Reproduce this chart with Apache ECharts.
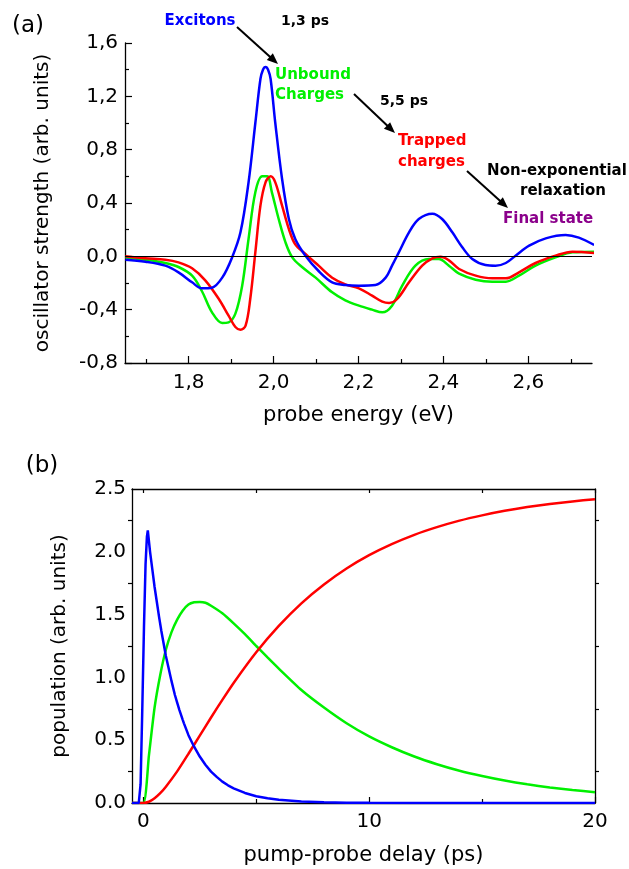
<!DOCTYPE html>
<html>
<head>
<meta charset="utf-8">
<script src="https://cdn.jsdelivr.net/npm/echarts@6/dist/echarts.min.js"></script>
<style>html,body{margin:0;padding:0;background:#fff;}#c{width:629px;height:869px;}</style>
</head>
<body>
<div id="c"></div>
<script>
// ---------- Panel (a): oscillator strength vs probe energy ----------
const excitonsA = [[1.651,-0.025],[1.698,-0.04],[1.745,-0.07],[1.776,-0.12],[1.808,-0.195],[1.831,-0.24],[1.855,-0.235],[1.879,-0.16],[1.902,-0.01],[1.922,0.18],[1.941,0.555],[1.957,1.0],[1.969,1.33],[1.975,1.40],[1.981,1.42],[1.987,1.40],[1.993,1.33],[2.004,1.0],[2.020,0.58],[2.036,0.28],[2.051,0.13],[2.075,0.005],[2.106,-0.11],[2.138,-0.195],[2.169,-0.215],[2.201,-0.22],[2.240,-0.215],[2.264,-0.16],[2.279,-0.07],[2.295,0.03],[2.319,0.18],[2.342,0.28],[2.374,0.32],[2.397,0.28],[2.421,0.18],[2.444,0.07],[2.468,-0.02],[2.499,-0.065],[2.523,-0.07],[2.547,-0.05],[2.570,0.005],[2.602,0.08],[2.641,0.135],[2.688,0.16],[2.719,0.14],[2.755,0.085]];
const unboundA = [[1.651,-0.008],[1.698,-0.025],[1.745,-0.05],[1.776,-0.08],[1.808,-0.145],[1.831,-0.26],[1.855,-0.42],[1.879,-0.50],[1.894,-0.495],[1.910,-0.43],[1.926,-0.22],[1.941,0.13],[1.957,0.48],[1.973,0.60],[1.985,0.60],[1.996,0.48],[2.012,0.28],[2.028,0.105],[2.044,-0.008],[2.067,-0.08],[2.099,-0.16],[2.138,-0.27],[2.169,-0.33],[2.201,-0.37],[2.232,-0.40],[2.256,-0.42],[2.279,-0.37],[2.303,-0.22],[2.334,-0.07],[2.366,-0.02],[2.389,-0.02],[2.413,-0.07],[2.437,-0.13],[2.476,-0.175],[2.515,-0.19],[2.547,-0.19],[2.578,-0.145],[2.617,-0.07],[2.664,-0.008],[2.704,0.03],[2.755,0.035]];
const trappedA = [[1.651,0.0],[1.698,-0.015],[1.745,-0.025],[1.776,-0.045],[1.808,-0.09],[1.839,-0.18],[1.871,-0.32],[1.894,-0.445],[1.910,-0.53],[1.922,-0.55],[1.934,-0.52],[1.945,-0.32],[1.957,0.03],[1.969,0.38],[1.981,0.555],[1.993,0.60],[2.004,0.555],[2.020,0.38],[2.036,0.205],[2.051,0.09],[2.075,0.018],[2.106,-0.07],[2.138,-0.16],[2.169,-0.21],[2.201,-0.24],[2.232,-0.295],[2.256,-0.34],[2.272,-0.35],[2.291,-0.32],[2.319,-0.195],[2.350,-0.07],[2.374,-0.015],[2.393,-0.003],[2.413,-0.03],[2.437,-0.095],[2.476,-0.145],[2.515,-0.165],[2.547,-0.165],[2.578,-0.12],[2.617,-0.05],[2.664,0.005],[2.704,0.035],[2.755,0.025]];
const energyMajorTicks = [1.8, 2.0, 2.2, 2.4, 2.6];
const energyMinorTicks = [1.7, 1.9, 2.1, 2.3, 2.5, 2.7];

// ---------- Panel (b): population vs pump-probe delay ----------
const excitonsB = [[-0.5,0],[-0.2,0],[-0.12,0.15],[-0.05,0.7],[0.03,1.4],[0.1,1.9],[0.16,2.12],[0.2,2.17],[0.3,2.0],[0.4,1.86],[0.5,1.72],[0.6,1.6],[0.7,1.48],[0.8,1.37],[0.9,1.27],[1.0,1.17],[1.1,1.09],[1.25,0.97],[1.4,0.86],[1.5,0.80],[1.6,0.74],[1.75,0.66],[1.8,0.634],[2.0,0.54],[2.25,0.448],[2.5,0.37],[2.75,0.305],[3.0,0.25],[3.25,0.208],[3.5,0.17],[3.75,0.141],[4.0,0.117],[4.5,0.08],[5,0.054],[5.5,0.037],[6,0.025],[7,0.012],[8,0.005],[9,0.002],[10,0.001],[12,0],[20,0]];
const unboundB = [[-0.5,0],[0,0],[0.25,0.38],[0.5,0.76],[0.75,1.02],[1.0,1.22],[1.25,1.36],[1.5,1.46],[1.75,1.533],[2.0,1.58],[2.25,1.598],[2.5,1.60],[2.75,1.594],[3.0,1.57],[3.5,1.51],[4,1.43],[4.5,1.344],[5,1.25],[5.5,1.159],[6,1.07],[7,0.90],[8,0.76],[9,0.635],[10,0.53],[11,0.444],[12,0.37],[13,0.309],[14,0.257],[15,0.215],[16,0.179],[17,0.149],[18,0.124],[19,0.104],[20,0.086]];
const trappedB = [[-0.5,0],[0,0],[0.25,0.01],[0.5,0.038],[0.75,0.078],[1.0,0.13],[1.5,0.252],[2.0,0.392],[2.5,0.536],[3,0.681],[3.5,0.821],[4,0.956],[5,1.20],[6,1.41],[7,1.59],[8,1.74],[9,1.867],[10,1.973],[11,2.061],[12,2.135],[13,2.196],[14,2.248],[15,2.29],[16,2.326],[17,2.356],[18,2.381],[19,2.401],[20,2.419]];
const delayMajorTicks = [0, 10, 20];
const delayMinorTicks = [5, 15];
const delayTopTicks = [0, 5, 10, 15, 20];

const FONT = 'DejaVu Sans';
const BLUE = '#0000ff', GREEN = '#00f000', RED = '#ff0000', PURPLE = '#8b008b';
const fmtComma = v => v.toFixed(1).replace('.', ',');
const axLine = {show: true, onZero: false, lineStyle: {color: '#000', width: 1.3}};
const tickStyle = {color: '#000', width: 1.2};
const labelStyle = {color: '#000', fontSize: 20, fontFamily: FONT};
const nameStyle = {color: '#000', fontSize: 21, fontFamily: FONT};

function lineSeries(data, color, xi, yi, extra) {
  return Object.assign({
    type: 'line', data: data, xAxisIndex: xi, yAxisIndex: yi,
    symbol: 'none', showSymbol: false, lineStyle: {color: color, width: 2.5},
    itemStyle: {color: color}, silent: true, animation: false
  }, extra || {});
}

function arrow(x1, y1, x2, y2) {
  const dx = x2 - x1, dy = y2 - y1, L = Math.hypot(dx, dy);
  const ux = dx / L, uy = dy / L, nx = -uy, ny = ux;
  const hl = 11, hw = 4.5;
  const bx = x2 - hl * ux, by = y2 - hl * uy;
  return [
    {type: 'line', shape: {x1: x1, y1: y1, x2: bx + ux * 2, y2: by + uy * 2}, style: {stroke: '#000', lineWidth: 2}},
    {type: 'polygon', shape: {points: [[x2, y2], [bx + hw * nx, by + hw * ny], [bx - hw * nx, by - hw * ny]]}, style: {fill: '#000'}}
  ];
}
function txt(t, x, y, color, size, bold, align) {
  return {type: 'text', x: x, y: y, style: {text: t, fill: color, font: (bold ? 'bold ' : '') + size + 'px "' + FONT + '"', textAlign: align || 'left', textVerticalAlign: 'middle'}};
}

const chart = echarts.init(document.getElementById('c'), null, {renderer: 'canvas'});
const option = {
  animation: false,
  backgroundColor: '#fff',
  grid: [
    {left: 125, top: 43, width: 467, height: 320},
    {left: 132, top: 489, width: 463, height: 314}
  ],
  xAxis: [
    {gridIndex: 0, type: 'value', position: 'bottom', min: 1.65, max: 2.75, axisLine: axLine,
     axisTick: {show: true, inside: true, length: 7, customValues: energyMajorTicks, lineStyle: tickStyle},
     axisLabel: Object.assign({customValues: energyMajorTicks, formatter: fmtComma, margin: 10}, labelStyle),
     splitLine: {show: false}, name: 'probe energy (eV)', nameLocation: 'middle', nameGap: 42, nameTextStyle: nameStyle},
    {gridIndex: 0, type: 'value', position: 'bottom', min: 1.65, max: 2.75, axisLine: {show: false, onZero: false},
     axisTick: {show: true, inside: true, length: 4, customValues: energyMinorTicks, lineStyle: tickStyle},
     axisLabel: {show: false}, splitLine: {show: false}},
    {gridIndex: 1, type: 'value', position: 'bottom', min: -0.5, max: 20, axisLine: axLine,
     axisTick: {show: true, inside: true, length: 6, customValues: delayMajorTicks, lineStyle: tickStyle},
     axisLabel: Object.assign({customValues: delayMajorTicks, margin: 9}, labelStyle),
     splitLine: {show: false}, name: 'pump-probe delay (ps)', nameLocation: 'middle', nameGap: 42, nameTextStyle: nameStyle},
    {gridIndex: 1, type: 'value', position: 'bottom', min: -0.5, max: 20, axisLine: {show: false, onZero: false},
     axisTick: {show: true, inside: true, length: 4, customValues: delayMinorTicks, lineStyle: tickStyle},
     axisLabel: {show: false}, splitLine: {show: false}},
    {gridIndex: 1, type: 'value', position: 'top', min: -0.5, max: 20, axisLine: axLine,
     axisTick: {show: true, inside: true, length: 4, customValues: delayTopTicks, lineStyle: tickStyle},
     axisLabel: {show: false}, splitLine: {show: false}}
  ],
  yAxis: [
    {gridIndex: 0, type: 'value', position: 'left', min: -0.8, max: 1.6, interval: 0.4, axisLine: axLine,
     axisTick: {show: true, inside: true, length: 7, lineStyle: tickStyle},
     minorTick: {show: true, splitNumber: 2, length: 4, lineStyle: tickStyle},
     axisLabel: Object.assign({formatter: fmtComma, margin: 7}, labelStyle),
     splitLine: {show: false}, minorSplitLine: {show: false},
     name: 'oscillator strength (arb. units)', nameLocation: 'middle', nameRotate: 90, nameGap: 72,
     nameTextStyle: {color: '#000', fontSize: 20, fontFamily: FONT}},
    {gridIndex: 1, type: 'value', position: 'left', min: 0, max: 2.5, interval: 0.5, axisLine: axLine,
     axisTick: {show: false},
     minorTick: {show: true, splitNumber: 2, length: 4, lineStyle: tickStyle},
     axisLabel: Object.assign({formatter: v => v.toFixed(1), margin: 6}, labelStyle),
     splitLine: {show: false}, minorSplitLine: {show: false},
     name: 'population (arb. units)', nameLocation: 'middle', nameRotate: 90, nameGap: 62,
     nameTextStyle: {color: '#000', fontSize: 20, fontFamily: FONT}},
    {gridIndex: 1, type: 'value', position: 'right', min: 0, max: 2.5, interval: 0.5, axisLine: axLine,
     axisTick: {show: false},
     minorTick: {show: true, splitNumber: 2, length: 4, lineStyle: tickStyle},
     axisLabel: {show: false}, splitLine: {show: false}, minorSplitLine: {show: false}}
  ],
  series: [
    lineSeries(unboundA, GREEN, 0, 0, {smooth: 0.35, markLine: {silent: true, symbol: ['none', 'none'], label: {show: false},
      lineStyle: {color: '#000', width: 1.2, type: 'solid'}, data: [{yAxis: 0}], animation: false}}),
    lineSeries(trappedA, RED, 0, 0, {smooth: 0.35}),
    lineSeries(excitonsA, BLUE, 0, 0, {smooth: 0.35}),
    lineSeries(unboundB, GREEN, 2, 1, {smooth: 0.2}),
    lineSeries(trappedB, RED, 2, 1, {smooth: 0.2}),
    lineSeries(excitonsB, BLUE, 2, 1)
  ],
  graphic: [].concat(
    [txt('(a)', 28, 26, '#000', 23, false, 'center'),
     txt('(b)', 42, 466, '#000', 23, false, 'center'),
     txt('Excitons', 200, 21, BLUE, 15, true, 'center'),
     txt('1,3 ps', 305, 21, '#000', 14, true, 'center'),
     txt('Unbound', 275, 75, GREEN, 15, true),
     txt('Charges', 275, 95, GREEN, 15, true),
     txt('5,5 ps', 404, 101, '#000', 14, true, 'center'),
     txt('Trapped', 398, 141, RED, 15, true),
     txt('charges', 398, 162, RED, 15, true),
     txt('Non-exponential', 557, 171, '#000', 15, true, 'center'),
     txt('relaxation', 563, 191, '#000', 15, true, 'center'),
     txt('Final state', 503, 219, PURPLE, 15, true)],
    arrow(237, 27, 278, 64),
    arrow(354, 94, 395, 133),
    arrow(467, 171, 508, 208)
  )
};
chart.setOption(option);
</script>
</body>
</html>
